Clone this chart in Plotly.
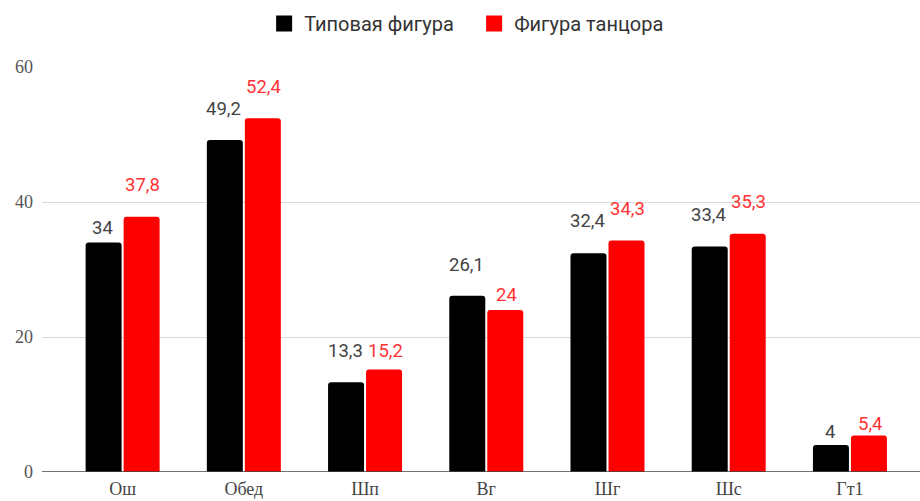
import plotly.graph_objects as go

# Categories and series values
categories = ["Ош", "Обед", "Шп", "Вг", "Шг", "Шс", "Гт1"]
typical = [34, 49.2, 13.3, 26.1, 32.4, 33.4, 4]
dancer = [37.8, 52.4, 15.2, 24, 34.3, 35.3, 5.4]

series_names = ["Типовая фигура", "Фигура танцора"]
series_colors = ["#000000", "#ff0000"]
label_colors = ["#444444", "#ff3333"]

# Vertical lift (px) of each value label above its bar
lift_typical = [15, 31, 31, 31, 32, 32, 13]
lift_dancer = [32, 31, 18, 15, 31, 32, 12]


def fmt(v):
    s = f"{v:g}"
    return s.replace(".", ",")


fig = go.Figure()
for name, vals, color in zip(series_names, [typical, dancer], series_colors):
    fig.add_trace(go.Bar(
        name=name, x=categories, y=vals, showlegend=False, legendgroup=name,
        marker=dict(color=color, line=dict(width=0), cornerradius=3),
    ))
# legend entries with larger square swatches
for name, color in zip(series_names, series_colors):
    fig.add_trace(go.Scatter(
        name=name, x=[None], y=[None], mode="markers", legendgroup=name,
        marker=dict(symbol="square", size=16, color=color),
    ))

annotations = []
for vals, lifts, col, dx in [(typical, lift_typical, label_colors[0], -20),
                             (dancer, lift_dancer, label_colors[1], 20)]:
    for c, v, l in zip(categories, vals, lifts):
        annotations.append(dict(
            x=c, y=v, text=fmt(v), showarrow=False,
            xshift=dx, yshift=l, yanchor="middle", xanchor="center",
            font=dict(family="Roboto, Arial, sans-serif", size=18.5, color=col),
        ))

fig.update_layout(
    width=920, height=501,
    margin=dict(l=42, r=0, t=67, b=29),
    plot_bgcolor="white", paper_bgcolor="white",
    barmode="group", bargap=0.373, bargroupgap=0.053,
    legend=dict(orientation="h", x=0.253, xanchor="left", y=0.992, yref="container",
                yanchor="top", entrywidth=165, entrywidthmode="pixels",
                font=dict(family="Roboto, Arial, sans-serif", size=20, color="#333333"),
                itemsizing="trace", traceorder="normal"),
    annotations=annotations,
    xaxis=dict(
        range=[-0.665, 6.578], showgrid=False, ticks="", ticklabelstandoff=4,
        automargin=False,
        tickfont=dict(family="Liberation Serif, Times New Roman, serif", size=18, color="#444444"),
        showline=False, zeroline=False,
    ),
    yaxis=dict(
        range=[0, 60], tickvals=[0, 20, 40, 60], showgrid=True, gridcolor="#d9d9d9",
        gridwidth=1, zeroline=False, ticks="", ticklabelstandoff=8, automargin=False,
        tickfont=dict(family="Liberation Serif, Times New Roman, serif", size=18, color="#555555"),
        showline=False,
    ),
    shapes=[dict(type="line", xref="paper", yref="y", x0=0, x1=1, y0=0, y1=0,
                 line=dict(color="#444444", width=1.5), layer="above")],
)

fig.write_html("out.html")
